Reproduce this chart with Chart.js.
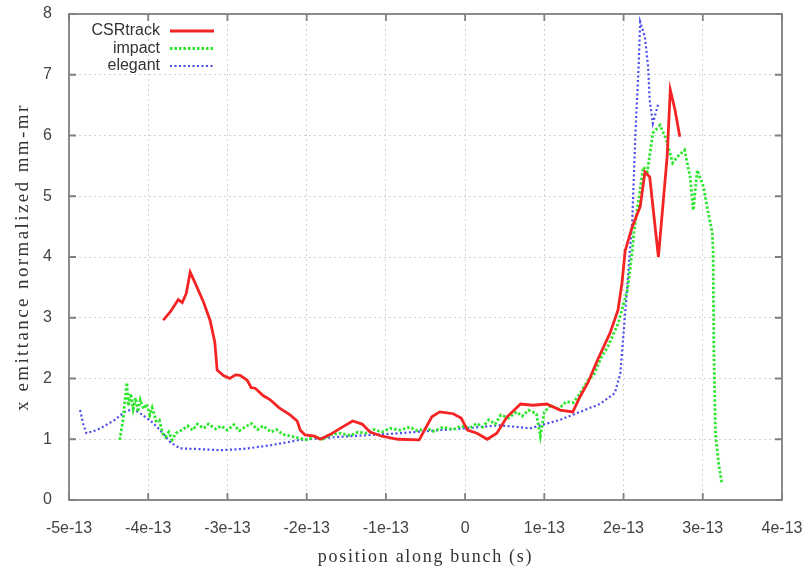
<!DOCTYPE html>
<html>
<head>
<meta charset="utf-8">
<script src="https://cdn.jsdelivr.net/npm/chart.js@4/dist/chart.umd.min.js"></script>
<style>
  html, body { margin: 0; padding: 0; background: #fff; }
  #wrap { width: 807px; height: 569px; }
</style>
</head>
<body>
<div id="wrap"><canvas id="c"></canvas></div>
<script>
// series (x in seconds, y in mm-mr)
const csrX = [-3.81e-13, -3.72e-13, -3.62e-13, -3.57e-13, -3.52e-13, -3.47e-13, -3.40e-13, -3.30e-13, -3.22e-13, -3.16e-13,
  -3.13e-13, -3.05e-13, -2.97e-13, -2.90e-13, -2.84e-13, -2.75e-13, -2.70e-13, -2.65e-13, -2.55e-13, -2.46e-13,
  -2.35e-13, -2.21e-13, -2.12e-13, -2.08e-13, -2.02e-13, -1.90e-13, -1.83e-13, -1.70e-13, -1.55e-13, -1.42e-13,
  -1.30e-13, -1.20e-13, -1.05e-13, -0.85e-13, -0.58e-13, -0.42e-13, -0.32e-13, -0.15e-13, -0.05e-13, 0.03e-13,
  0.15e-13, 0.28e-13, 0.40e-13, 0.53e-13, 0.70e-13, 0.86e-13, 1.03e-13, 1.20e-13, 1.36e-13, 1.45e-13,
  1.55e-13, 1.67e-13, 1.83e-13, 1.93e-13, 1.98e-13, 2.02e-13, 2.11e-13, 2.21e-13, 2.27e-13, 2.33e-13,
  2.44e-13, 2.55e-13, 2.59e-13, 2.65e-13, 2.71e-13];
const csrY = [2.96, 3.10, 3.30, 3.25, 3.40, 3.75, 3.55, 3.25, 2.96, 2.60,
  2.14, 2.05, 2.00, 2.06, 2.05, 1.97, 1.85, 1.84, 1.72, 1.65,
  1.52, 1.40, 1.30, 1.15, 1.07, 1.05, 1.00, 1.08, 1.20, 1.30,
  1.25, 1.12, 1.05, 1.00, 0.99, 1.37, 1.45, 1.42, 1.35, 1.15,
  1.10, 1.00, 1.10, 1.37, 1.58, 1.56, 1.58, 1.48, 1.45, 1.70,
  1.93, 2.30, 2.75, 3.13, 3.57, 4.10, 4.50, 4.83, 5.40, 5.32,
  4.00, 5.65, 6.75, 6.42, 5.98];

const impactX = [-4.36e-13, -4.32e-13, -4.27e-13, -4.25e-13, -4.22e-13, -4.19e-13, -4.16e-13, -4.13e-13, -4.10e-13, -4.06e-13,
  -4.02e-13, -3.98e-13, -3.95e-13, -3.90e-13, -3.86e-13, -3.82e-13, -3.78e-13, -3.74e-13, -3.70e-13, -3.65e-13,
  -3.58e-13, -3.50e-13, -3.44e-13, -3.38e-13, -3.30e-13, -3.24e-13, -3.15e-13, -3.08e-13, -3.00e-13, -2.92e-13,
  -2.85e-13, -2.78e-13, -2.70e-13, -2.62e-13, -2.55e-13, -2.45e-13, -2.38e-13, -2.30e-13, -2.20e-13, -2.10e-13,
  -2.00e-13, -1.90e-13, -1.80e-13, -1.70e-13, -1.58e-13, -1.45e-13, -1.35e-13, -1.25e-13, -1.15e-13, -1.05e-13,
  -0.95e-13, -0.82e-13, -0.70e-13, -0.60e-13, -0.48e-13, -0.40e-13, -0.28e-13, -0.15e-13, -0.05e-13, 0.05e-13,
  0.15e-13, 0.22e-13, 0.30e-13, 0.38e-13, 0.45e-13, 0.55e-13, 0.65e-13, 0.72e-13, 0.80e-13, 0.90e-13,
  0.95e-13, 1.00e-13, 1.08e-13, 1.18e-13, 1.28e-13, 1.36e-13, 1.45e-13, 1.55e-13, 1.62e-13, 1.72e-13,
  1.80e-13, 1.93e-13, 2.05e-13, 2.11e-13, 2.13e-13, 2.25e-13, 2.30e-13, 2.37e-13, 2.46e-13, 2.54e-13,
  2.62e-13, 2.68e-13, 2.77e-13, 2.84e-13, 2.88e-13, 2.93e-13, 3.01e-13, 3.07e-13, 3.12e-13, 3.13e-13,
  3.14e-13, 3.16e-13, 3.20e-13, 3.24e-13];
const impactY = [0.99, 1.30, 1.93, 1.55, 1.75, 1.50, 1.68, 1.45, 1.65, 1.50,
  1.58, 1.40, 1.52, 1.30, 1.32, 1.10, 1.04, 1.12, 0.99, 1.10,
  1.15, 1.22, 1.15, 1.25, 1.18, 1.25, 1.17, 1.22, 1.15, 1.24,
  1.14, 1.20, 1.26, 1.16, 1.22, 1.12, 1.16, 1.08, 1.05, 1.02,
  0.99, 1.04, 1.00, 1.07, 1.10, 1.06, 1.12, 1.10, 1.16, 1.12,
  1.18, 1.15, 1.20, 1.14, 1.18, 1.13, 1.20, 1.16, 1.22, 1.18,
  1.26, 1.20, 1.32, 1.25, 1.40, 1.35, 1.45, 1.38, 1.48, 1.42,
  1.05, 1.45, 1.55, 1.50, 1.62, 1.60, 1.75, 1.97, 2.05, 2.35,
  2.52, 2.90, 3.46, 4.10, 4.40, 5.48, 5.40, 6.04, 6.17, 5.93,
  5.55, 5.65, 5.76, 5.32, 4.77, 5.43, 5.15, 4.72, 4.40, 4.10,
  2.47, 1.10, 0.60, 0.28];

const elegantX = [-4.86e-13, -4.82e-13, -4.78e-13, -4.65e-13, -4.55e-13, -4.42e-13, -4.30e-13, -4.19e-13, -4.07e-13, -3.95e-13,
  -3.85e-13, -3.72e-13, -3.60e-13, -3.40e-13, -3.09e-13, -2.80e-13, -2.46e-13, -2.08e-13, -1.58e-13, -0.82e-13,
  0.00e-13, 0.44e-13, 0.82e-13, 1.20e-13, 1.45e-13, 1.70e-13, 1.89e-13, 1.96e-13, 2.00e-13, 2.04e-13,
  2.08e-13, 2.11e-13, 2.15e-13, 2.19e-13, 2.21e-13, 2.27e-13, 2.31e-13, 2.33e-13, 2.37e-13, 2.44e-13];
const elegantY = [1.48, 1.25, 1.10, 1.15, 1.22, 1.32, 1.45, 1.50, 1.40, 1.28,
  1.15, 0.95, 0.85, 0.84, 0.82, 0.84, 0.90, 0.99, 1.04, 1.10,
  1.18, 1.23, 1.18, 1.32, 1.45, 1.58, 1.76, 2.09, 2.75, 3.40,
  4.10, 4.60, 6.04, 7.13, 7.87, 7.62, 7.13, 6.58, 6.20, 6.53];

const seriesNames = ['CSRtrack', 'impact', 'elegant'];
const xTickVals = [-5e-13, -4e-13, -3e-13, -2e-13, -1e-13, 0, 1e-13, 2e-13, 3e-13, 4e-13];
const xTickLabels = ['-5e-13', '-4e-13', '-3e-13', '-2e-13', '-1e-13', '0', '1e-13', '2e-13', '3e-13', '4e-13'];
const yTickVals = [0, 1, 2, 3, 4, 5, 6, 7, 8];
const xTitle = 'position along bunch (s)';
const yTitle = 'x emittance normalized mm-mr';

const pts = (xs, ys) => xs.map((x, i) => ({ x, y: ys[i] }));
const serif = '"Liberation Serif", "Times New Roman", serif';
const sans = '"Liberation Sans", Arial, sans-serif';

// gnuplot-ish frame with inward ticks, axis titles and a legend inside the plot
const frame = {
  id: 'frame',
  afterDraw(chart) {
    const { ctx, chartArea: a, scales } = chart;
    ctx.save();
    ctx.strokeStyle = '#808080';
    ctx.lineWidth = 1.8;
    ctx.strokeRect(a.left, a.top, a.right - a.left, a.bottom - a.top);
    ctx.beginPath();
    xTickVals.forEach((v) => {
      const px = scales.x.getPixelForValue(v);
      ctx.moveTo(px, a.bottom); ctx.lineTo(px, a.bottom - 7);
      ctx.moveTo(px, a.top); ctx.lineTo(px, a.top + 7);
    });
    yTickVals.forEach((v) => {
      const py = scales.y.getPixelForValue(v);
      ctx.moveTo(a.left, py); ctx.lineTo(a.left + 7, py);
      ctx.moveTo(a.right, py); ctx.lineTo(a.right - 7, py);
    });
    ctx.stroke();

    // axis titles (wide serif like the original)
    ctx.fillStyle = '#333';
    ctx.textAlign = 'center';
    ctx.textBaseline = 'middle';
    ctx.font = `18px ${serif}`;
    ctx.letterSpacing = '1.7px';
    ctx.fillText(xTitle, (a.left + a.right) / 2, 557);
    ctx.save();
    ctx.translate(23, (a.top + a.bottom) / 2);
    ctx.rotate(-Math.PI / 2);
    ctx.font = `19px ${serif}`;
    ctx.letterSpacing = '2.4px';
    ctx.fillText(yTitle, 0, 0);
    ctx.restore();
    ctx.letterSpacing = '0px';

    // legend
    ctx.font = `16px ${sans}`;
    ctx.textAlign = 'right';
    chart.data.datasets.forEach((ds, i) => {
      const y = a.top + 17 + i * 17.5;
      ctx.fillStyle = '#333';
      ctx.fillText(ds.label, a.left + 91, y);
      ctx.strokeStyle = ds.borderColor;
      ctx.lineWidth = ds.borderWidth;
      ctx.setLineDash(ds.borderDash || []);
      ctx.beginPath();
      ctx.moveTo(a.left + 101, y); ctx.lineTo(a.left + 145, y);
      ctx.stroke();
    });
    ctx.restore();
  },
};

new Chart(document.getElementById('c'), {
  type: 'line',
  data: {
    datasets: [
      { label: seriesNames[0], data: pts(csrX, csrY), borderColor: '#f52424', borderWidth: 2.8 },
      { label: seriesNames[1], data: pts(impactX, impactY), borderColor: '#2ee62e', borderWidth: 2.8, borderDash: [2.5, 2] },
      { label: seriesNames[2], data: pts(elegantX, elegantY), borderColor: '#4a4aee', borderWidth: 2.2, borderDash: [2, 2.5] },
    ],
  },
  options: {
    responsive: true,
    maintainAspectRatio: false,
    animation: false,
    parsing: false,
    elements: { point: { radius: 0 }, line: { tension: 0 } },
    layout: { padding: { left: 0, right: 25, top: 14, bottom: 0 } },
    plugins: { legend: { display: false }, tooltip: { enabled: false } },
    scales: {
      x: {
        type: 'linear', min: -5e-13, max: 4e-13,
        afterBuildTicks: (s) => { s.ticks = xTickVals.map((v) => ({ value: v })); },
        afterFit: (s) => { s.height = 69; s.paddingLeft = 0; s.paddingRight = 0; },
        ticks: {
          color: '#444', padding: 19, maxRotation: 0, autoSkip: false,
          font: { family: sans, size: 16 },
          callback: (v, i) => xTickLabels[i],
        },
        grid: { color: '#d2d2d2', drawTicks: false, lineWidth: 1 },
        border: { display: false, dash: [2, 3] },
      },
      y: {
        type: 'linear', min: 0, max: 8,
        afterBuildTicks: (s) => { s.ticks = yTickVals.map((v) => ({ value: v })); },
        afterFit: (s) => { s.width = 69; s.paddingTop = 0; s.paddingBottom = 0; },
        ticks: {
          color: '#444', padding: 17,
          font: { family: sans, size: 16 },
        },
        grid: { color: '#d2d2d2', drawTicks: false, lineWidth: 1 },
        border: { display: false, dash: [2, 3] },
      },
    },
  },
  plugins: [frame],
});
</script>
</body>
</html>
